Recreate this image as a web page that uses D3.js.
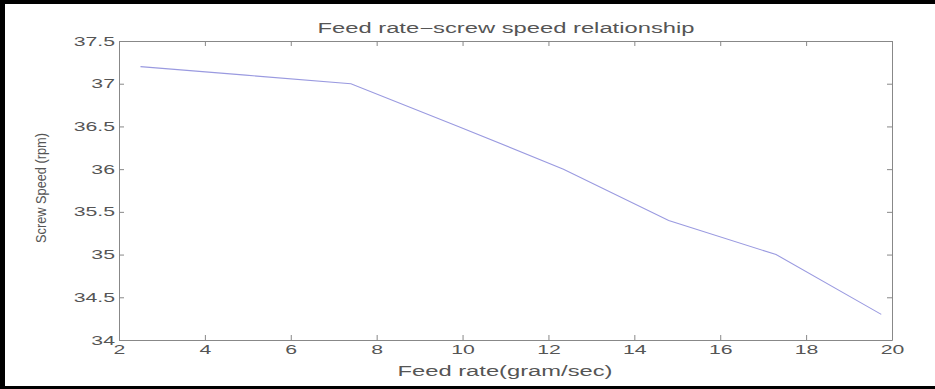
<!DOCTYPE html>
<html>
<head>
<meta charset="utf-8">
<script src="https://cdn.jsdelivr.net/npm/d3@7"></script>
<style>
  body { margin: 0; background: #fff; }
  svg { display: block; }
  text { font-family: "Liberation Sans", Arial, sans-serif; fill: #555; }
</style>
</head>
<body>
<div id="chart"></div>
<script>
// feed rate (gram/sec) vs screw speed (rpm)
const feedRate = [2.5, 4.95, 7.4, 9.9, 12.35, 14.8, 17.3, 19.75];
const screwSpeed = [37.2, 37.1, 37.0, 36.5, 36.0, 35.4, 35.0, 34.3];
const xTicks = [2, 4, 6, 8, 10, 12, 14, 16, 18, 20];
const yTicks = [34, 34.5, 35, 35.5, 36, 36.5, 37, 37.5];

const W = 935, H = 389;
const margin = { top: 41, right: 43, bottom: 49, left: 119 };
const width = W - margin.left - margin.right;
const height = H - margin.top - margin.bottom;

const svg = d3.select("#chart").append("svg")
    .attr("width", W)
    .attr("height", H);

// black frame round the figure
svg.append("rect").attr("x", 0).attr("y", 0).attr("width", W).attr("height", 4).attr("fill", "#000");
svg.append("rect").attr("x", 0).attr("y", 0).attr("width", 5).attr("height", H).attr("fill", "#000");
svg.append("rect").attr("x", 0).attr("y", H - 3).attr("width", W).attr("height", 3).attr("fill", "#000");

const g = svg.append("g").attr("transform", `translate(${margin.left},${margin.top})`);

const x = d3.scaleLinear().domain([2, 20]).range([0, width]);
const y = d3.scaleLinear().domain([34, 37.5]).range([height, 0]);

const fmt = d => String(d);
const stretch = 1.7;

// bottom axis
const xb = g.append("g").attr("transform", `translate(0,${height})`)
    .call(d3.axisBottom(x).tickValues(xTicks).tickFormat(fmt).tickSizeInner(-5).tickSizeOuter(0).tickPadding(4));
xb.selectAll("text").attr("transform", `scale(${stretch},1)`).attr("dy", "0.8em");

// top axis, ticks only
g.append("g").call(d3.axisTop(x).tickValues(xTicks).tickFormat("").tickSizeInner(-5).tickSizeOuter(0));

// left axis
const yl = g.append("g")
    .call(d3.axisLeft(y).tickValues(yTicks).tickFormat(fmt).tickSizeInner(-5).tickSizeOuter(0).tickPadding(4));
yl.selectAll("text").attr("x", -4 / stretch).attr("transform", `scale(${stretch},1)`);

// right axis, ticks only
g.append("g").attr("transform", `translate(${width},0)`)
    .call(d3.axisRight(y).tickValues(yTicks).tickFormat("").tickSizeInner(-5).tickSizeOuter(0));

g.selectAll(".domain, .tick line").attr("stroke", "#888");
g.selectAll(".tick text").attr("font-size", 12.5).attr("fill", "#666");

// the curve
const pts = feedRate.map((f, i) => [f, screwSpeed[i]]);
g.append("path")
    .datum(pts)
    .attr("fill", "none")
    .attr("stroke", "#9a9ae0")
    .attr("stroke-width", 1.1)
    .attr("d", d3.line().x(d => x(d[0])).y(d => y(d[1])));

// title and labels
svg.append("text")
    .attr("x", 506).attr("y", 33)
    .attr("text-anchor", "middle")
    .attr("font-size", 14)
    .attr("textLength", 377).attr("lengthAdjust", "spacingAndGlyphs")
    .attr("fill", "#444")
    .text("Feed rate−screw speed relationship");

svg.append("text")
    .attr("x", 505).attr("y", 376)
    .attr("text-anchor", "middle")
    .attr("font-size", 14)
    .attr("textLength", 215).attr("lengthAdjust", "spacingAndGlyphs")
    .attr("fill", "#444")
    .text("Feed rate(gram/sec)");

svg.append("text")
    .attr("transform", "translate(46,188) rotate(-90)")
    .attr("text-anchor", "middle")
    .attr("font-size", 15)
    .attr("textLength", 110).attr("lengthAdjust", "spacingAndGlyphs")
    .attr("fill", "#444")
    .text("Screw Speed (rpm)");
</script>
</body>
</html>
